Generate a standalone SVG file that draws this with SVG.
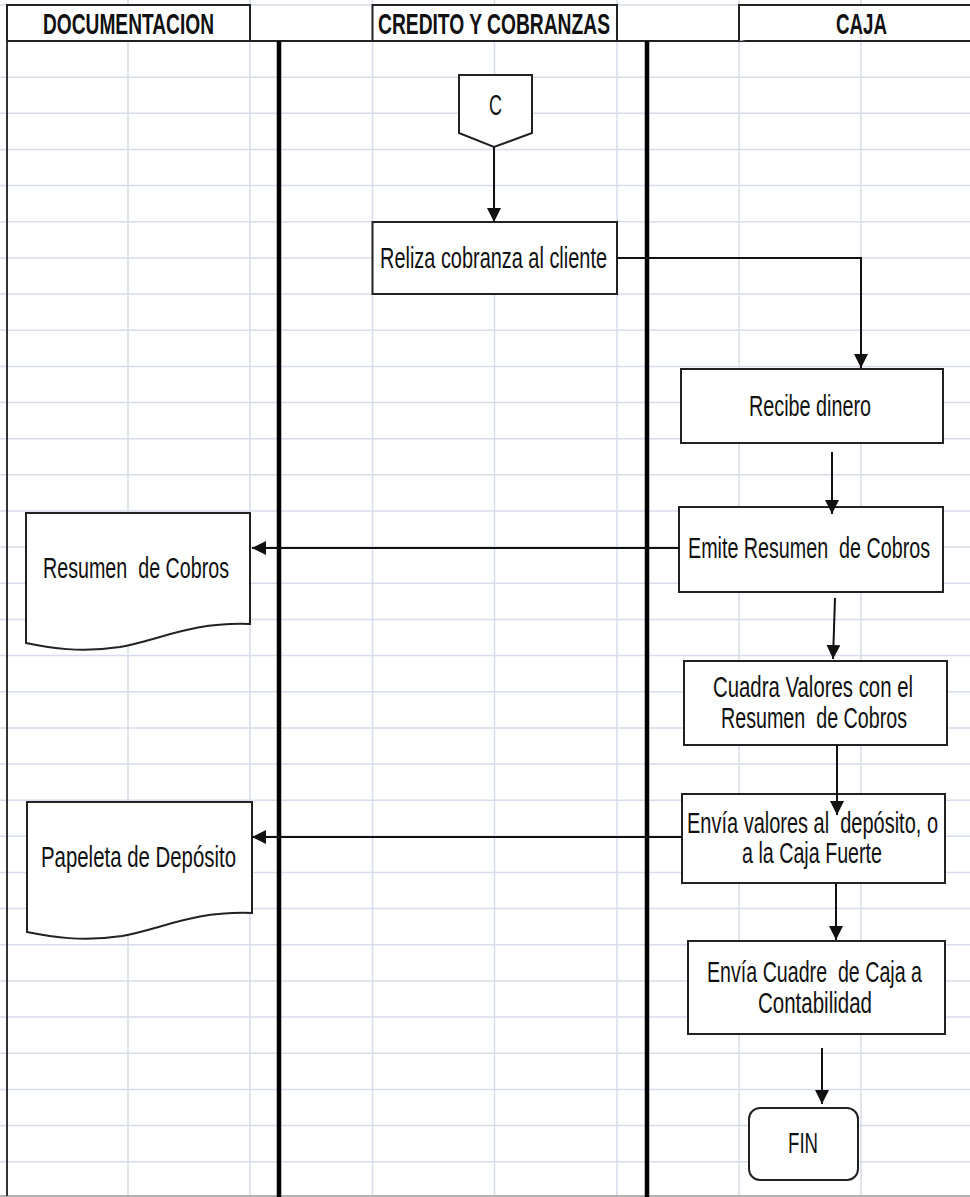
<svg xmlns="http://www.w3.org/2000/svg" width="970" height="1197" viewBox="0 0 970 1197">
<defs>
<style>
.grid{stroke:#d6dcea;stroke-width:1.5;fill:none}
.box{fill:#fff;stroke:#222;stroke-width:2}
.lane{stroke:#000;stroke-width:4.5}
.hdr{font-family:"Liberation Sans Narrow","Liberation Sans",Arial,sans-serif;font-weight:bold;font-size:30px;fill:#111;text-anchor:middle}
.t{font-family:"Liberation Sans Narrow","Liberation Sans",Arial,sans-serif;font-size:29px;fill:#111;text-anchor:middle;white-space:pre}
.conn{stroke:#111;stroke-width:2;fill:none;marker-end:url(#arr)}
</style>
<marker id="arr" markerUnits="userSpaceOnUse" markerWidth="14" markerHeight="14" refX="14" refY="7" orient="auto">
<path d="M0,0 L14,7 L0,14 Z" fill="#111"/>
</marker>
</defs>
<rect x="0" y="0" width="970" height="1197" fill="#fff"/>
<g id="grid" class="grid">
<path d="M128,0V1196M250,0V1196M372.5,0V1196M494.5,0V1196M617,0V1196M739,0V1196M861,0V1196"/>
<path d="M0,5H970M0,77.2H970M0,113.3H970M0,149.5H970M0,185.6H970M0,221.8H970M0,257.9H970M0,294H970M0,330.2H970M0,366.4H970M0,402.5H970M0,438.7H970M0,474.8H970M0,511H970M0,547.1H970M0,583.3H970M0,619.4H970M0,655.6H970M0,691.7H970M0,727.9H970M0,764H970M0,800.2H970M0,836.3H970M0,872.5H970M0,908.6H970M0,944.8H970M0,980.9H970M0,1017.1H970M0,1053.2H970M0,1089.4H970M0,1125.5H970M0,1161.7H970"/>
</g>
<g id="frame">
<line x1="0" y1="1196" x2="970" y2="1196" stroke="#999" stroke-width="1.5"/>
<line x1="7" y1="41" x2="7" y2="1196" stroke="#333" stroke-width="2"/>
<line x1="7" y1="41" x2="970" y2="41" stroke="#222" stroke-width="2"/>
<line class="lane" x1="279" y1="41" x2="279" y2="1197"/>
<line class="lane" x1="647" y1="41" x2="647" y2="1197"/>
</g>
<g id="header-documentacion">
<rect class="box" x="7" y="5" width="243" height="36"/>
<text class="hdr" x="128.5" y="34" textLength="171" lengthAdjust="spacingAndGlyphs">DOCUMENTACION</text>
</g>
<g id="header-credito">
<rect class="box" x="372.5" y="5" width="244.5" height="36"/>
<text class="hdr" x="494" y="34" textLength="232" lengthAdjust="spacingAndGlyphs">CREDITO Y COBRANZAS</text>
</g>
<g id="header-caja">
<path d="M739,41V5H972" fill="#fff" stroke="#222" stroke-width="2"/>
<text class="hdr" x="861.5" y="34" textLength="51" lengthAdjust="spacingAndGlyphs">CAJA</text>
</g>
<g id="node-c">
<path class="box" d="M459,75H532V133L494,147L459,133Z"/>
<text class="t" x="495.5" y="115" textLength="13" lengthAdjust="spacingAndGlyphs">C</text>
</g>
<g id="node-reliza">
<rect class="box" x="372.5" y="222" width="244.5" height="72"/>
<text class="t" x="493.5" y="268" textLength="227" lengthAdjust="spacingAndGlyphs">Reliza cobranza al cliente</text>
</g>
<g id="node-recibe">
<rect class="box" x="681" y="369" width="262" height="74"/>
<text class="t" x="810" y="416" textLength="122" lengthAdjust="spacingAndGlyphs">Recibe dinero</text>
</g>
<g id="node-emite">
<rect class="box" x="679" y="507" width="264" height="85"/>
<text class="t" x="809" y="558" textLength="242" lengthAdjust="spacingAndGlyphs" xml:space="preserve">Emite Resumen  de Cobros</text>
</g>
<g id="node-cuadra">
<rect class="box" x="684" y="661" width="263" height="84"/>
<text class="t" x="813" y="697" textLength="200" lengthAdjust="spacingAndGlyphs">Cuadra Valores con el</text>
<text class="t" x="814" y="728" textLength="186" lengthAdjust="spacingAndGlyphs" xml:space="preserve">Resumen  de Cobros</text>
</g>
<g id="node-envia-valores">
<rect class="box" x="682" y="794" width="263" height="89"/>
<text class="t" x="812.5" y="833" textLength="251" lengthAdjust="spacingAndGlyphs" xml:space="preserve">Envía valores al  depósito, o</text>
<text class="t" x="812" y="863" textLength="140" lengthAdjust="spacingAndGlyphs">a la Caja Fuerte</text>
</g>
<g id="node-envia-cuadre">
<rect class="box" x="688" y="941" width="257" height="93"/>
<text class="t" x="814.5" y="982" textLength="215" lengthAdjust="spacingAndGlyphs" xml:space="preserve">Envía Cuadre  de Caja a</text>
<text class="t" x="815" y="1013" textLength="114" lengthAdjust="spacingAndGlyphs">Contabilidad</text>
</g>
<g id="node-fin">
<rect class="box" x="749" y="1108" width="109" height="72" rx="11"/>
<text class="t" x="803" y="1153" textLength="30" lengthAdjust="spacingAndGlyphs">FIN</text>
</g>
<g id="doc-resumen">
<path class="box" d="M26,513H250V624C190,622 160,640 120,647C80,653 50,648 26,643Z"/>
<text class="t" x="136" y="578" textLength="186" lengthAdjust="spacingAndGlyphs" xml:space="preserve">Resumen  de Cobros</text>
</g>
<g id="doc-papeleta">
<path class="box" d="M27,802H252V913C192,911 162,929 122,936C82,942 52,937 27,932Z"/>
<text class="t" x="138.5" y="867" textLength="195" lengthAdjust="spacingAndGlyphs">Papeleta de Depósito</text>
</g>
<g id="connectors">
<path class="conn" d="M494,147V222"/>
<path class="conn" d="M617,258H861V368"/>
<path class="conn" d="M832,452V514"/>
<path class="conn" d="M835,598L833,659"/>
<path class="conn" d="M837,745V815"/>
<path class="conn" d="M836,883V940"/>
<path class="conn" d="M822,1048V1104"/>
<path class="conn" d="M679,548H252"/>
<path class="conn" d="M682,837H252"/>
</g>
</svg>
